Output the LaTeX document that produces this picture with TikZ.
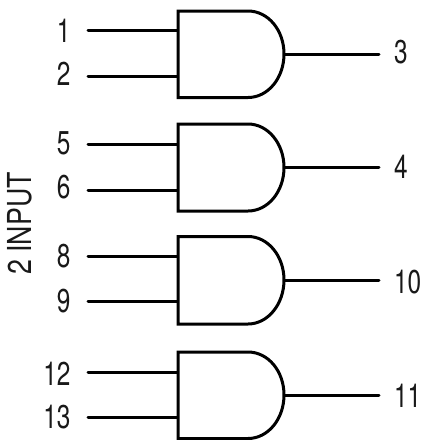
\documentclass[tikz,border=0pt]{standalone}
\usepackage{fontspec}
\setmainfont{TeX Gyre Heros}
\usetikzlibrary{calc}
\tikzset{
  gatebody/.style={draw=black,line width=3pt,line join=miter,fill=white},
  inwire/.style={draw=black,line width=3pt,line cap=round},
  outwire/.style={draw=black,line width=3pt,line cap=round},
  pinlabel/.style={inner sep=0pt,outer sep=0pt,font=\fontsize{33}{33}\selectfont,text=black!90},
  inlabel/.style={pinlabel,anchor=east},
  outlabel/.style={pinlabel,anchor=west},
}
\newcommand{\sq}[1]{\scalebox{0.74}[1]{#1}}
% #1 name, #2 top, #3 in A y, #4 in B y, #5 out y, #6 bottom
\newcommand{\andgate}[6]{
  \coordinate (#1-tl) at (178,#2);
  \coordinate (#1-bl) at (178,#6);
  \coordinate (#1-ia) at (178,#3);
  \coordinate (#1-ib) at (178,#4);
  \coordinate (#1-o) at (284,#5);
  \coordinate (#1-fa) at (88,#3);
  \coordinate (#1-fb) at (88,#4);
  \coordinate (#1-fo) at (379,#5);
  \draw[inwire] (#1-fa) -- (#1-ia);
  \draw[inwire] (#1-fb) -- (#1-ib);
  \draw[outwire] (#1-o) -- (#1-fo);
  \draw[gatebody] (#1-tl) -- ++(70,0) .. controls +(20,0) and (284,#5-24) .. (#1-o)
     .. controls (284,#5+24) and ($(#1-bl)+(90,0)$) .. ($(#1-bl)+(70,0)$) -- (#1-bl) -- cycle;
}
\begin{document}
\begin{tikzpicture}[x=1pt,y=-1pt]
\useasboundingbox (0,0) rectangle (422,440);
\andgate{ga}{11}{30.5}{76}{54}{97.5}
\andgate{gb}{124}{144.5}{190}{167.5}{211}
\andgate{gc}{236.5}{256.5}{301.5}{280}{324}
\andgate{gd}{352}{372.5}{417.5}{395}{438.5}
\node[inlabel] (l1) at (70.5,30.3) {\sq{1}};
\node[inlabel] (l2) at (70.5,73.7) {\sq{2}};
\node[outlabel] (l3) at (394,52) {\sq{3}};
\node[inlabel] (l5) at (70.5,143.7) {\sq{5}};
\node[inlabel] (l6) at (70.5,187) {\sq{6}};
\node[outlabel] (l4) at (394,166.7) {\sq{4}};
\node[inlabel] (l8) at (70.5,256) {\sq{8}};
\node[inlabel] (l9) at (70.5,301) {\sq{9}};
\node[outlabel] (l10) at (394,282) {\sq{10}};
\node[inlabel] (l12) at (70.5,373.8) {\sq{12}};
\node[inlabel] (l13) at (70.5,417.5) {\sq{13}};
\node[outlabel] (l11) at (394,395.3) {\sq{11}};
\node[pinlabel,rotate=90] (title) at (19.5,223.5) {\scalebox{0.81}[1]{2 INPUT}};
\end{tikzpicture}
\end{document}
